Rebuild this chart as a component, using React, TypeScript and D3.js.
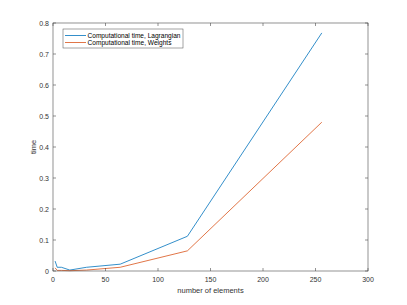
import React from 'react';
import * as d3 from 'd3';

const elements = [2, 4, 8, 16, 32, 64, 128, 256];
const lagrangian = [0.032, 0.012, 0.012, 0.003, 0.012, 0.022, 0.112, 0.768];
const weights = [0.01, 0.002, 0.002, 0.001, 0.003, 0.012, 0.065, 0.48];
const xTicks = [0, 50, 100, 150, 200, 250, 300];
const yTicks = [0, 0.1, 0.2, 0.3, 0.4, 0.5, 0.6, 0.7, 0.8];
const seriesNames = ['Computational time, Lagrangian', 'Computational time, Weights'];
const seriesColors = ['#0072BD', '#D95319'];
const legendTextWidths = [93, 84];

const W = 407;
const H = 305;
const left = 53;
const right = 368;
const top = 23;
const bottom = 271;

export default function App() {
  const x = d3.scaleLinear().domain([0, 300]).range([left, right]);
  const y = d3.scaleLinear().domain([0, 0.8]).range([bottom, top]);
  const line = d3
    .line<number>()
    .x((_, i) => x(elements[i]))
    .y((d) => y(d));
  const axisColor = '#4a4a4a';
  const font = 'Helvetica, Arial, "Liberation Sans", sans-serif';

  return (
    <svg
      width={W}
      height={H}
      style={{position: 'absolute', left: 0, top: 0, background: '#fff'}}
      fontFamily={font}>
      <rect x={0} y={0} width={W} height={H} fill="#fff" />
      {[lagrangian, weights].map((s, k) => (
        <path key={k} d={line(s) || ''} fill="none" stroke={seriesColors[k]} strokeWidth={0.8} />
      ))}
      {/* axes box */}
      <rect x={left} y={top} width={right - left} height={bottom - top} fill="none" stroke={axisColor} strokeWidth={0.6} />
      {xTicks.map((t) => (
        <g key={'x' + t}>
          <line x1={x(t)} x2={x(t)} y1={bottom} y2={bottom - 3} stroke={axisColor} strokeWidth={0.6} />
          <line x1={x(t)} x2={x(t)} y1={top} y2={top + 3} stroke={axisColor} strokeWidth={0.6} />
          <text x={x(t)} y={bottom + 11} fontSize={7} textAnchor="middle" fill="#333">
            {t}
          </text>
        </g>
      ))}
      {yTicks.map((t) => (
        <g key={'y' + t}>
          <line x1={left} x2={left + 3} y1={y(t)} y2={y(t)} stroke={axisColor} strokeWidth={0.6} />
          <line x1={right} x2={right - 3} y1={y(t)} y2={y(t)} stroke={axisColor} strokeWidth={0.6} />
          <text x={left - 4} y={y(t) + 2.5} fontSize={7} textAnchor="end" fill="#333">
            {t === 0 ? '0' : t.toFixed(1)}
          </text>
        </g>
      ))}
      <text x={(left + right) / 2} y={bottom + 22} fontSize={7.5} textAnchor="middle" fill="#333">
        number of elements
      </text>
      <text
        transform={`translate(${left - 17},${(top + bottom) / 2}) rotate(-90)`}
        fontSize={7.5}
        textAnchor="middle"
        fill="#333">
        time
      </text>
      {/* legend */}
      <rect x={63} y={29} width={120} height={19} fill="#fff" stroke={axisColor} strokeWidth={0.5} />
      {seriesNames.map((n, k) => (
        <g key={n}>
          <line x1={65} x2={86} y1={35.5 + k * 7} y2={35.5 + k * 7} stroke={seriesColors[k]} strokeWidth={0.8} />
          <text
            x={87.5}
            y={37.8 + k * 7}
            fontSize={6.3}
            fill="#000"
            textLength={legendTextWidths[k]}
            lengthAdjust="spacingAndGlyphs">
            {n}
          </text>
        </g>
      ))}
    </svg>
  );
}
